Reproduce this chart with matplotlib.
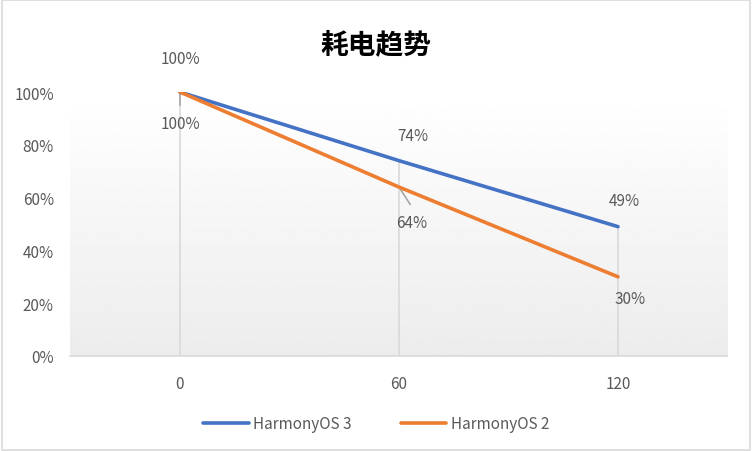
import numpy as np
import matplotlib
matplotlib.use("Agg")
import matplotlib.pyplot as plt
from matplotlib.lines import Line2D
from matplotlib.patches import Rectangle

plt.rcParams['font.family'] = ['Noto Sans CJK SC', 'DejaVu Sans']

title = "耗电趋势"
minutes = [0, 60, 120]
harmony3 = [100, 74, 49]
harmony2 = [100, 64, 30]
series_names = ["HarmonyOS 3", "HarmonyOS 2"]
y_ticks = [0, 20, 40, 60, 80, 100]

blue = "#4472c4"
orange = "#ed7d31"
txt = "#595959"

fig = plt.figure(figsize=(7.52, 4.52), dpi=100)
ax = fig.add_axes([0.0937, 0.2102, 0.8737, 0.5840])

# gradient background of plot area
grad = np.linspace(1.0, 0.925, 256).reshape(-1, 1)
ax.imshow(grad, cmap="gray", vmin=0, vmax=1, aspect="auto",
          extent=[-30, 150, 0, 100], origin="upper", zorder=0)

ax.set_xlim(-30, 150)
ax.set_ylim(0, 100)

# drop lines
for x, a, b in zip(minutes, harmony3, harmony2):
    ax.plot([x, x], [0, max(a, b)], color="#d9d9d9", lw=1.2, zorder=1)

ax.plot(minutes, harmony3, color=blue, lw=2.6, solid_capstyle="round", zorder=3)
ax.plot(minutes, harmony2, color=orange, lw=2.6, solid_capstyle="round", zorder=3)

# leader lines
ax.plot([0, 0], [100, 107], color="#a6a6a6", lw=1.2, zorder=2)
ax.plot([0, 0], [100, 95], color="#a6a6a6", lw=1.2, zorder=2)
ax.annotate("", xy=(60, harmony2[1]), xytext=(63.5, 56.5),
            arrowprops=dict(arrowstyle="-", color="#a6a6a6", lw=1.2), zorder=2)

lab = dict(fontsize=11, color=txt, ha="center", va="center")
ax.annotate(f"{harmony3[0]}%", (0, harmony3[0]), xytext=(0, 34), textcoords="offset pixels", **lab)
ax.annotate(f"{harmony2[0]}%", (0, harmony2[0]), xytext=(0, -31), textcoords="offset pixels", **lab)
ax.annotate(f"{harmony3[1]}%", (60, harmony3[1]), xytext=(14, 25), textcoords="offset pixels", **lab)
ax.annotate(f"{harmony2[1]}%", (60, harmony2[1]), xytext=(13, -35), textcoords="offset pixels", **lab)
ax.annotate(f"{harmony3[2]}%", (120, harmony3[2]), xytext=(6, 26), textcoords="offset pixels", **lab)
ax.annotate(f"{harmony2[2]}%", (120, harmony2[2]), xytext=(12, -22), textcoords="offset pixels", **lab)

ax.set_xticks(minutes)
ax.set_yticks(y_ticks)
ax.set_yticklabels([f"{v}%" for v in y_ticks])
ax.tick_params(axis="both", length=0, labelsize=11, labelcolor=txt)
ax.tick_params(axis="y", pad=12)
ax.tick_params(axis="x", pad=14)
for s in ["top", "right", "left"]:
    ax.spines[s].set_visible(False)
ax.spines["bottom"].set_color("#d9d9d9")
ax.spines["bottom"].set_linewidth(1.2)

fig.text(0.5, 0.900, title, fontsize=20, fontweight="bold", color="black",
         ha="center", va="center")

handles = [Line2D([], [], color=blue, lw=2.6, solid_capstyle="round"),
           Line2D([], [], color=orange, lw=2.6, solid_capstyle="round")]
fig.legend(handles, series_names, loc="center", bbox_to_anchor=(0.5, 0.06),
           ncol=2, frameon=False, fontsize=11, labelcolor=txt,
           handlelength=3.0, handletextpad=0.3, columnspacing=3.2)

fig.patches.append(Rectangle((0.002, 0.002), 0.996, 0.996, transform=fig.transFigure,
                             fill=False, edgecolor="#d9d9d9", lw=1.2))

fig.savefig("out.png", dpi=100)
